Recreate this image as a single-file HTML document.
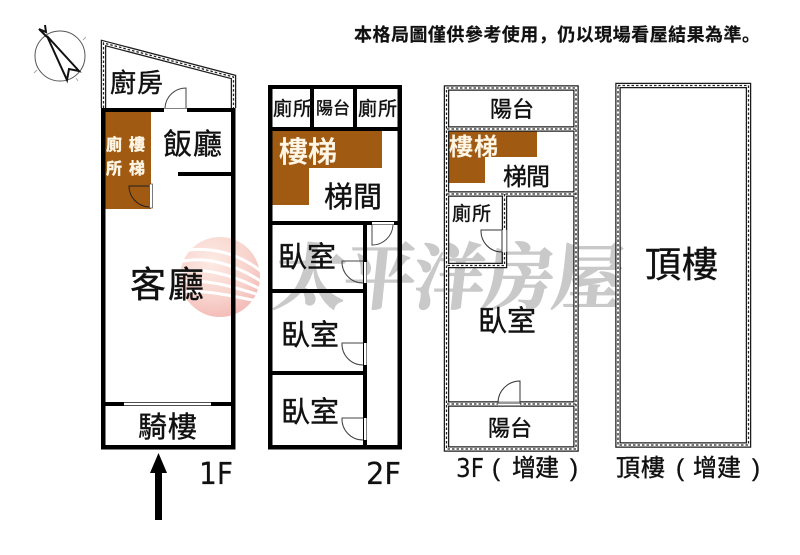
<!DOCTYPE html>
<html><head><meta charset="utf-8">
<style>
html,body{margin:0;padding:0;background:#fff}
svg{display:block;filter:blur(.3px)}
text{font-family:"Liberation Sans","Noto Sans CJK TC",sans-serif;fill:#111;stroke:#111;stroke-width:.4}
text.c{fill:#fff6e6;stroke:#fff6e6}
text.wm{font-family:"Liberation Serif","Noto Serif CJK SC",serif;font-weight:700;fill:#c9c9c9;stroke:#c9c9c9;stroke-width:1.2;font-size:72px}
text.n{font-family:"Liberation Sans","Noto Sans CJK SC",sans-serif;font-weight:700;font-size:18px;stroke-width:.2}
text.d{font-family:"DejaVu Sans",sans-serif;stroke-width:.2}
.h1{fill:none;stroke:#1c1c1c;stroke-width:5.5}
.h2{fill:none;stroke:#fff;stroke-width:3}
.h3{fill:none;stroke:#222;stroke-width:1.3;stroke-dasharray:2.5 2}
</style></head>
<body>
<svg width="800" height="555" viewBox="0 0 800 555" xmlns="http://www.w3.org/2000/svg">
<defs>
<radialGradient id="g" cx=".4" cy=".3" r=".8"><stop offset="0" stop-color="#fcebe4"/><stop offset=".6" stop-color="#f8d2cc"/><stop offset="1" stop-color="#f2b4b0"/></radialGradient>
<clipPath id="cc"><circle cx="220" cy="277" r="40"/></clipPath>
</defs>
<rect width="800" height="555" fill="#fff"/>

<!-- watermark -->
<circle cx="220" cy="277" r="40" fill="url(#g)"/>
<g clip-path="url(#cc)" fill="none" stroke="#fff" stroke-width="3">
<path d="M176 253 C200 245 235 250 262 272"/>
<path d="M176 263 C200 255 232 262 262 282"/>
<path d="M176 273 C200 266 232 274 262 290"/>
<path d="M176 283 C200 277 232 286 262 296"/>
<path d="M176 293 C200 288 232 296 262 302"/>
</g>
<text class="wm" transform="translate(270 303) skewX(-6)" x="2" y="0" textLength="350">太平洋房屋</text>

<!-- note -->
<text class="n" x="354" y="41" textLength="406">本格局圖僅供參考使用，仍以現場看屋結果為準。</text>

<!-- compass -->
<circle cx="60" cy="56" r="25" fill="#fff" stroke="#555" stroke-width="1"/>
<path d="M47 36 L79 71 L69 69 L67 80 Z" fill="#fff" stroke="#111" stroke-width="2" stroke-linejoin="miter"/>
<path d="M45 25 L46 32 L39 29 L47 37" fill="none" stroke="#111" stroke-width="2"/>
<path d="M83 40 L86 37 M37 70 L34 73 M76 78 L78 81" stroke="#aaa" stroke-width="1" fill="none"/>

<!-- browns -->
<g fill="#a05a12">
<rect x="104" y="112" width="47" height="97"/>
<path d="M272 131H382V168H309V205H272Z"/>
<path d="M448 131H537V157H485V183H448Z"/>
</g>

<!-- 1F -->
<g fill="#000">
<rect x="101" y="108" width="134" height="4"/>
<rect x="101" y="108" width="4.500" height="341"/>
<rect x="231" y="108" width="4.500" height="341"/>
<rect x="101" y="445" width="134.500" height="4.500"/>
<rect x="103" y="402" width="130" height="4"/>
<rect x="178" y="172" width="54" height="4"/>
</g>
<!-- kitchen hatched -->
<path class="h1" d="M103.500 108 V43 L233.500 77 V108"/>
<path class="h2" d="M103.500 108 V43 L233.500 77 V108"/>
<path class="h3" d="M103.500 108 V43 L233.500 77 V108"/>
<!-- 1F openings -->
<rect x="164" y="108.500" width="23" height="3.500" fill="#fff"/>
<path d="M165 108 A21 21 0 0 1 186 88 V108" fill="none" stroke="#444" stroke-width="1"/>
<rect x="149.500" y="184" width="3" height="24" fill="#fff" stroke="#444" stroke-width=".7"/>
<path d="M149 186 H129 A21 21 0 0 0 149 207" fill="none" stroke="#222" stroke-width="1"/>
<rect x="124" y="402.700" width="87" height="2.600" fill="#fff"/>

<!-- 2F -->
<g fill="#000">
<rect x="268" y="85" width="134" height="4"/>
<rect x="268" y="85" width="4.500" height="364.500"/>
<rect x="397.500" y="85" width="4.500" height="364.500"/>
<rect x="268" y="445" width="134" height="4.500"/>
<rect x="268" y="127" width="134" height="4"/>
<rect x="310" y="85" width="4" height="46"/>
<rect x="353" y="85" width="4" height="46"/>
<rect x="268" y="221" width="134" height="4"/>
<rect x="363" y="221" width="4" height="228"/>
<rect x="268" y="289" width="99" height="4"/>
<rect x="268" y="371" width="99" height="4"/>
</g>
<g fill="#fff">
<rect x="372" y="222" width="22" height="2.500"/>
<rect x="364" y="262" width="2.500" height="21"/>
<rect x="364" y="343" width="2.500" height="22"/>
<rect x="364" y="418" width="2.500" height="22"/>
</g>
<g fill="none" stroke="#444" stroke-width="1">
<path d="M372 225 V245 A21 21 0 0 0 393 225"/>
<path d="M363 261 H342 A21 21 0 0 0 363 283"/>
<path d="M363 343 H342 A21 21 0 0 0 363 365"/>
<path d="M363 418 H342 A21 21 0 0 0 363 440"/>
</g>

<!-- 3F + roof hatched -->
<g class="h1">
<rect x="446.500" y="88" width="129.500" height="361"/>
<path d="M447 129 H576 M447 194 H576 M447 404 H576 M504.500 194 V265.500 H447"/>
<rect x="618" y="85.500" width="130.500" height="359.500"/>
</g>
<g class="h2">
<rect x="446.500" y="88" width="129.500" height="361"/>
<path d="M447 129 H576 M447 194 H576 M447 404 H576 M504.500 194 V265.500 H447"/>
<rect x="618" y="85.500" width="130.500" height="359.500"/>
</g>
<g class="h3">
<rect x="446.500" y="88" width="129.500" height="361"/>
<path d="M447 129 H576 M447 194 H576 M447 404 H576 M504.500 194 V265.500 H447"/>
<rect x="618" y="85.500" width="130.500" height="359.500"/>
</g>
<rect x="501.500" y="230" width="5" height="22" fill="#fff"/>
<path d="M502 230 V263 M502 230 H481 A21 21 0 0 0 502 252" fill="none" stroke="#333" stroke-width="1"/>
<rect x="498" y="401.500" width="22" height="5" fill="#fff"/>
<path d="M498 403 H520 V381 A22 22 0 0 0 498 403 M498 406 H520" fill="none" stroke="#333" stroke-width="1"/>

<!-- arrow -->
<path d="M158.500 453 L167 473 H162 V520 H155 V473 H150 Z" fill="#000"/>

<!-- labels 1F -->
<text x="110" y="92" font-size="26" textLength="53">廚房</text>
<text x="163" y="154" font-size="29" textLength="59">飯廳</text>
<text x="106" y="150" font-size="16" class="c" font-weight="700">廁</text>
<text x="129" y="150" font-size="16" class="c" font-weight="700">樓</text>
<text x="106" y="174" font-size="16" class="c" font-weight="700">所</text>
<text x="129" y="174" font-size="16" class="c" font-weight="700">梯</text>
<text x="130" y="297" font-size="36" textLength="74">客廳</text>
<text x="138" y="437" font-size="29" textLength="59">騎樓</text>
<text class="d" x="199" y="484" font-size="30" textLength="34" lengthAdjust="spacingAndGlyphs">1F</text>

<!-- labels 2F -->
<text x="273" y="115" font-size="19" textLength="39">廁所</text>
<text x="316" y="114" font-size="17" textLength="34">陽台</text>
<text x="358" y="115" font-size="19" textLength="39">廁所</text>
<text x="279" y="162" font-size="29" class="c" font-weight="500" textLength="58">樓梯</text>
<text x="324" y="207" font-size="29" textLength="58">梯間</text>
<text x="278" y="267" font-size="29" textLength="58">臥室</text>
<text x="281" y="345" font-size="29" textLength="58">臥室</text>
<text x="281" y="422" font-size="29" textLength="58">臥室</text>
<text class="d" x="366" y="484" font-size="30" textLength="35" lengthAdjust="spacingAndGlyphs">2F</text>

<!-- labels 3F -->
<text x="490" y="117" font-size="22" textLength="44">陽台</text>
<text x="449" y="155" font-size="24" class="c" font-weight="500" textLength="49">樓梯</text>
<text x="503" y="185" font-size="24" textLength="47">梯間</text>
<text x="452" y="220" font-size="19" textLength="39">廁所</text>
<text x="478" y="331" font-size="29" textLength="58">臥室</text>
<text x="488" y="436" font-size="22" textLength="44">陽台</text>
<text class="d" x="456" y="477" font-size="26" textLength="28" lengthAdjust="spacingAndGlyphs">3F</text>
<text x="492" y="476" font-size="24">(</text>
<text x="512" y="476" font-size="24" textLength="47">增建</text>
<text x="570" y="476" font-size="24">)</text>

<!-- roof -->
<text x="645" y="277" font-size="36" textLength="73">頂樓</text>
<text x="616" y="476" font-size="24" textLength="49">頂樓</text>
<text x="676" y="476" font-size="24">(</text>
<text x="693" y="476" font-size="24" textLength="48">增建</text>
<text x="752" y="476" font-size="24">)</text>
</svg>
</body></html>
